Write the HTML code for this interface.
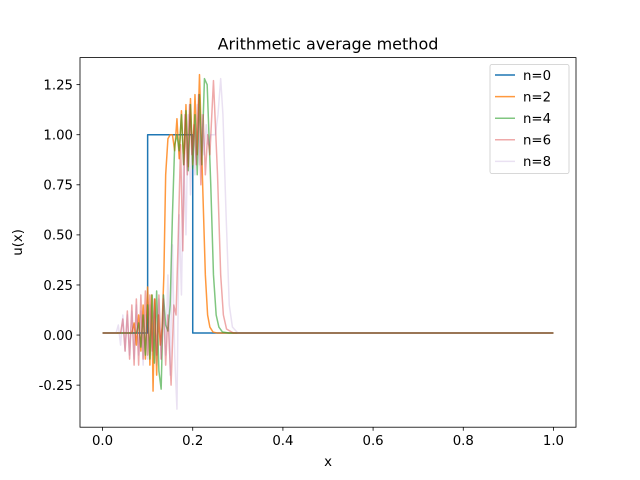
<!DOCTYPE html>
<html><head><meta charset="utf-8"><style>
body{margin:0;background:#fff;}
svg{display:block;font-family:"DejaVu Sans","Liberation Sans",sans-serif;}
</style></head><body>
<svg id="chart" width="640" height="480"></svg>
<script>
const titleText = "Arithmetic average method";
const xTicks = [0.0, 0.2, 0.4, 0.6, 0.8, 1.0];
const yTicks = [-0.25, 0.00, 0.25, 0.50, 0.75, 1.00, 1.25];
const seriesNames = ["n=0","n=2","n=4","n=6","n=8"];
const x0 = [0,0.1,0.1,0.2,0.2,1];
const y0 = [0.01,0.01,1.0,1.0,0.01,0.01];
const x2 = [0,0.065,0.07,0.075,0.08,0.085,0.09,0.095,0.1,0.105,0.109,0.112,0.116,0.12,0.124,0.128,0.132,0.136,0.14,0.145,0.15,0.155,0.16,0.165,0.17,0.175,0.18,0.185,0.19,0.195,0.2,0.205,0.21,0.215,0.222,0.228,0.233,0.238,0.245,0.255,1];
const y2 = [0.01,0.01,0.06,-0.05,0.1,-0.08,0.15,-0.12,0.24,-0.15,0.2,-0.28,0.18,-0.2,0.1,-0.05,0.04,0.3,0.8,0.98,1.0,1.0,0.92,1.08,0.88,1.12,0.85,1.15,0.84,1.18,0.85,1.2,0.9,1.3,0.75,0.3,0.1,0.04,0.015,0.01,0.01];
const x4 = [0,0.075,0.08,0.085,0.09,0.095,0.1,0.105,0.11,0.115,0.12,0.125,0.13,0.135,0.14,0.145,0.15,0.155,0.16,0.165,0.17,0.175,0.18,0.185,0.19,0.195,0.2,0.205,0.21,0.215,0.22,0.226,0.232,0.24,0.246,0.252,0.258,0.266,0.28,1];
const y4 = [0.01,0.01,0.06,-0.06,0.1,-0.1,0.15,-0.12,0.2,-0.14,0.22,-0.18,-0.27,0.2,0.05,0.02,0.15,0.6,0.95,1.0,0.92,1.1,0.85,1.12,0.82,1.15,0.83,1.1,0.8,1.2,0.85,1.28,1.25,0.75,0.3,0.1,0.04,0.015,0.01,0.01];
const x6 = [0,0.04,0.045,0.05,0.055,0.06,0.065,0.07,0.075,0.08,0.085,0.09,0.095,0.1,0.105,0.11,0.115,0.12,0.125,0.13,0.135,0.14,0.145,0.152,0.158,0.163,0.168,0.173,0.178,0.183,0.188,0.193,0.198,0.203,0.208,0.213,0.218,0.223,0.228,0.233,0.238,0.246,0.255,0.262,0.268,0.275,0.29,1];
const y6 = [0.01,0.01,0.08,-0.08,0.12,-0.12,0.15,-0.15,0.18,-0.15,0.2,-0.12,0.22,-0.1,0.2,-0.08,0.18,-0.1,0.2,-0.12,0.18,-0.15,0.1,-0.25,0.15,0.1,0.5,0.95,0.42,1.1,0.8,1.15,0.9,1.05,0.85,1.2,0.75,1.1,0.8,1.0,0.9,1.27,0.8,0.3,0.1,0.03,0.01,0.01];
const x8 = [0,0.03,0.035,0.04,0.045,0.05,0.055,0.06,0.065,0.07,0.075,0.08,0.085,0.09,0.095,0.1,0.105,0.11,0.115,0.12,0.125,0.13,0.135,0.14,0.145,0.15,0.155,0.16,0.165,0.17,0.175,0.18,0.185,0.19,0.195,0.2,0.205,0.21,0.215,0.22,0.225,0.23,0.235,0.24,0.245,0.25,0.256,0.262,0.267,0.274,0.281,0.288,0.3,1];
const y8 = [0.01,0.01,0.05,-0.05,0.1,-0.08,0.1,-0.1,0.12,-0.12,0.15,-0.1,0.12,-0.15,0.1,-0.12,0.15,-0.1,0.12,-0.15,0.18,-0.12,0.2,-0.1,0.3,-0.2,0.45,-0.1,-0.37,0.6,0.2,0.9,0.5,1.1,0.7,1.0,0.8,1.15,0.85,1.1,0.9,1.05,0.95,1.0,1.0,1.0,1.1,1.28,1.1,0.6,0.15,0.04,0.01,0.01];
const allX = [x0,x2,x4,x6,x8];
const allY = [y0,y2,y4,y6,y8];
const colors = ["#1f77b4","#ff7f0e","#2ca02c","#d62728","#9467bd"];
const alphas = [1,0.8,0.6,0.4,0.2];

const L=80,R=576,T=57.6,B=427.2;
const xMin=-0.05,xMax=1.05,yMin=-0.46,yMax=1.385;
const sx=v=>L+(v-xMin)/(xMax-xMin)*(R-L);
const sy=v=>B-(v-yMin)/(yMax-yMin)*(B-T);
const svg=document.getElementById('chart');
const NS="http://www.w3.org/2000/svg";
function mk(tag,attrs,parent){const e=document.createElementNS(NS,tag);for(const k in attrs)e.setAttribute(k,attrs[k]);(parent||svg).appendChild(e);return e;}

const clip=mk('clipPath',{id:'cp'});mk('rect',{x:L,y:T,width:R-L,height:B-T},clip);
const g=mk('g',{'clip-path':'url(#cp)'});


allX.forEach((xs,i)=>{
  const p=mk('polyline',{points:xs.map((x,j)=>sx(x).toFixed(2)+','+sy(allY[i][j]).toFixed(2)).join(' '),fill:'none',stroke:colors[i],'stroke-opacity':alphas[i],'stroke-width':1.5,'stroke-linejoin':'round'},g);
  
  
});
const frame=mk('rect',{x:L,y:T,width:R-L,height:B-T,fill:'none',stroke:'#000','stroke-width':0.8});


xTicks.forEach(v=>{
  const x=sx(v);
  mk('line',{x1:x,x2:x,y1:B,y2:B+3.5,stroke:'#000','stroke-width':0.8});
  const t=mk('text',{x:x,y:B+18,'font-size':13.3,'text-anchor':'middle'});t.textContent=v.toFixed(1);
  
  
});
yTicks.forEach(v=>{
  const y=sy(v);
  mk('line',{x1:L,x2:L-3.5,y1:y,y2:y,stroke:'#000','stroke-width':0.8});
  const t=mk('text',{x:L-7,y:y+4.8,'font-size':13.3,'text-anchor':'end'});t.textContent=v.toFixed(2);
  
  
});
const tt=mk('text',{x:(L+R)/2,y:T-8,'font-size':16,'text-anchor':'middle'});tt.textContent=titleText;


const xl=mk('text',{x:(L+R)/2,y:466,'font-size':13.3,'text-anchor':'middle'});xl.textContent='x';


const yl=mk('text',{x:0,y:0,'font-size':13.3,'text-anchor':'middle',transform:'translate(22,'+((T+B)/2)+') rotate(-90)'});yl.textContent='u(x)';


const lg=mk('g',{});


mk('rect',{x:490,y:64.5,width:79,height:109,rx:2,fill:'#fff','fill-opacity':0.8,stroke:'#ccc','stroke-width':0.8},lg);
seriesNames.forEach((n,i)=>{
  const y=75+i*21.6;
  const ln=mk('line',{x1:495,x2:515,y1:y,y2:y,stroke:colors[i],'stroke-opacity':alphas[i],'stroke-width':1.5},lg);
  
  
  const t=mk('text',{x:523,y:y+4.8,'font-size':13.3},lg);t.textContent=n;
  
  
});
</script>
</body></html>
